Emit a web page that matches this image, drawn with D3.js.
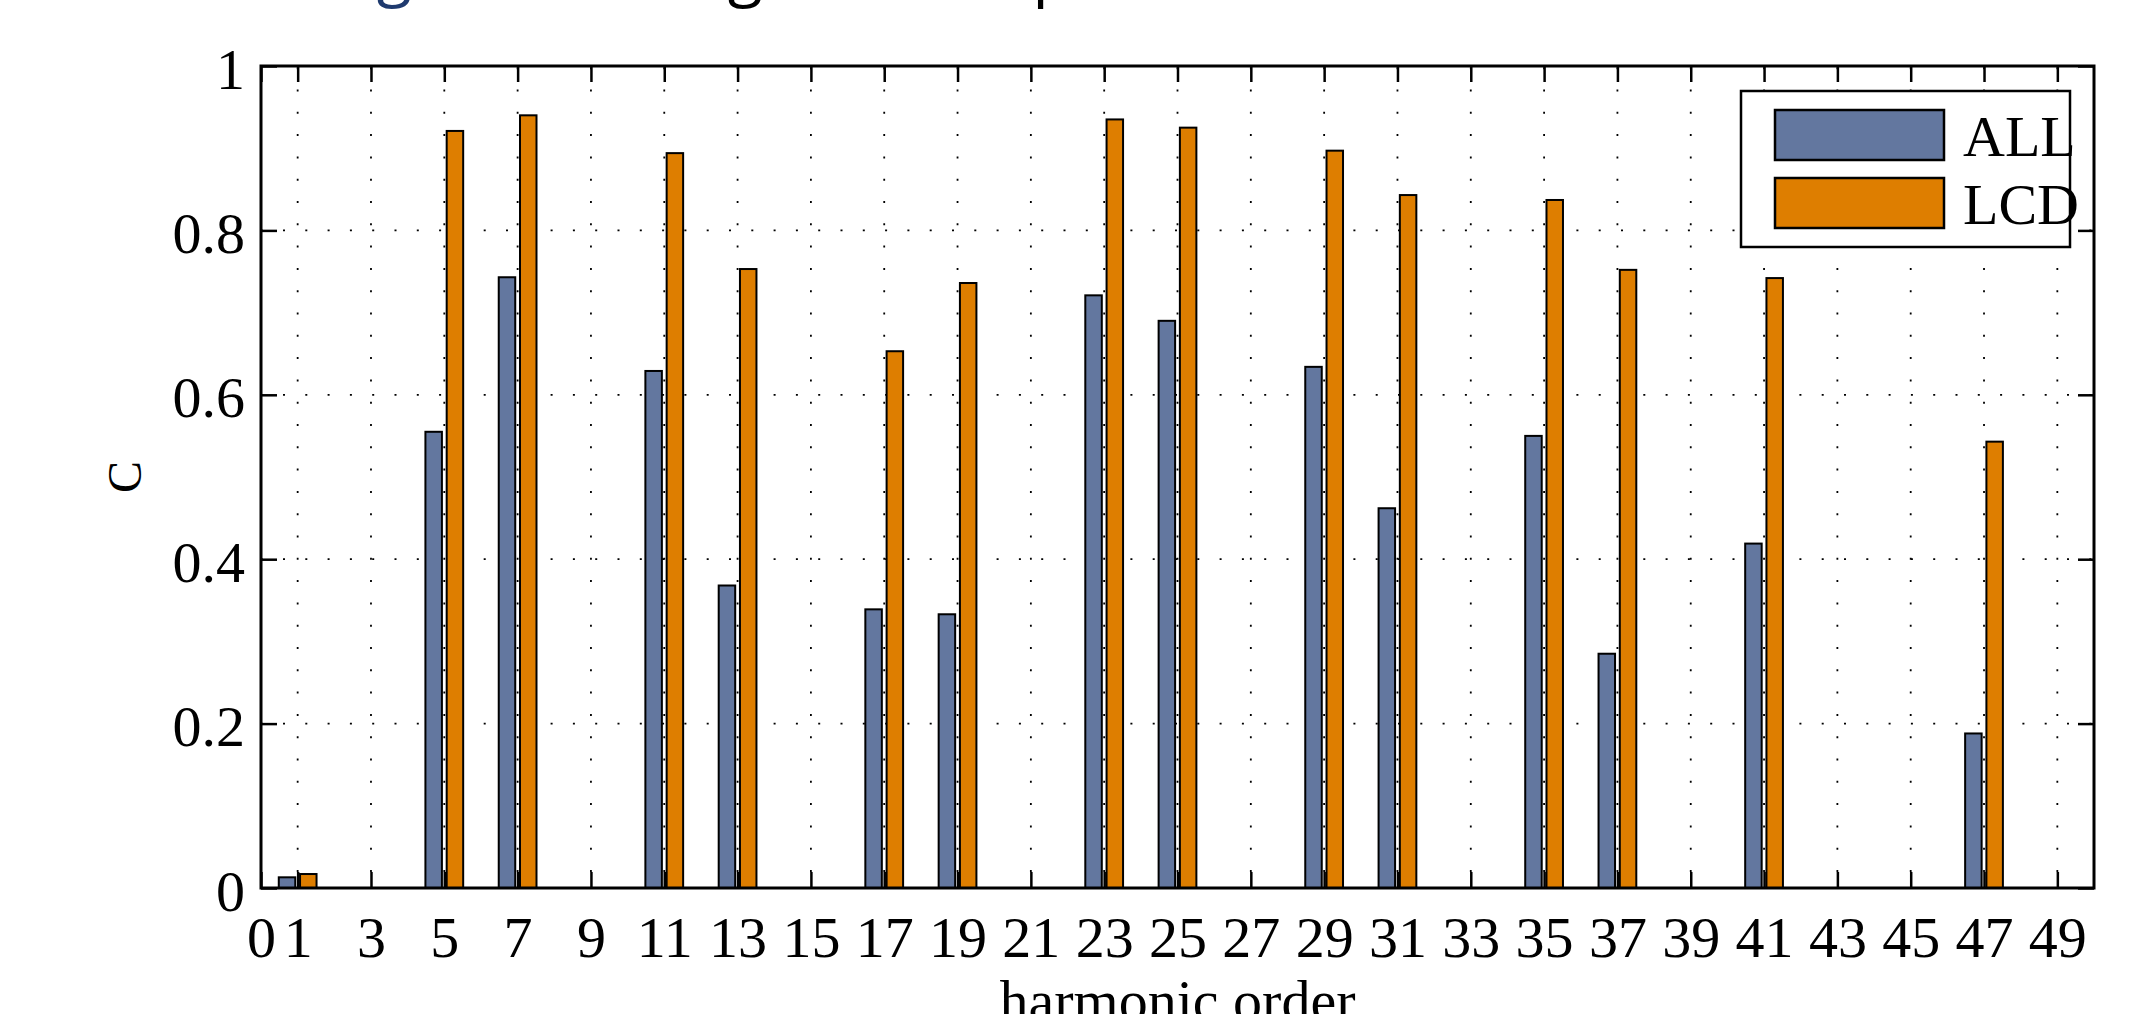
<!DOCTYPE html>
<html>
<head>
<meta charset="utf-8">
<script src="https://cdn.jsdelivr.net/npm/d3@7/dist/d3.min.js"></script>
<style>
  html, body { margin: 0; padding: 0; background: #ffffff; overflow: hidden; }
  svg { display: block; }
</style>
</head>
<body>
<svg id="chart" width="2131" height="1014"></svg>
<script>
// ---- data ----
const harmonics = [1, 5, 7, 11, 13, 17, 19, 23, 25, 29, 31, 35, 37, 41, 47];
const valuesALL = [0.013, 0.555, 0.743, 0.629, 0.368, 0.339, 0.333, 0.721, 0.690, 0.634, 0.462, 0.550, 0.285, 0.419, 0.188];
const valuesLCD = [0.017, 0.921, 0.940, 0.894, 0.753, 0.653, 0.736, 0.935, 0.925, 0.897, 0.843, 0.837, 0.752, 0.742, 0.543];
const seriesNames = ["ALL", "LCD"];
const seriesColors = ["#63779f", "#de7e00"];
const xTickValues = [0, 1, 3, 5, 7, 9, 11, 13, 15, 17, 19, 21, 23, 25, 27, 29, 31, 33, 35, 37, 39, 41, 43, 45, 47, 49];
const yTickValues = [0, 0.2, 0.4, 0.6, 0.8, 1];
const yTickLabels = ["0", "0.2", "0.4", "0.6", "0.8", "1"];
const xLabel = "harmonic order";
const yLabel = "C";
const titleGlyphs = [{t: "g", c: "#1f3a6e"}, {t: "g", c: "#000"}, {t: "p", c: "#000"}];

// ---- layout ----
const L = 261, R = 2094, T = 66, B = 888;
const serif = "'Liberation Serif', 'Times New Roman', serif";
const svg = d3.select("#chart");

const x = d3.scaleLinear().domain([0, 50]).range([L, R]);
const y = d3.scaleLinear().domain([0, 1]).range([B, T]);

// partially visible title (cut off at top of picture)
const titleX = [394, 745, 1052];
svg.append("g").selectAll("text").data(titleGlyphs).join("text")
  .attr("x", (d, i) => titleX[i]).attr("y", -6)
  .attr("text-anchor", "middle")
  .attr("font-family", "'Open Sans', sans-serif").attr("font-size", 64)
  .attr("fill", d => d.c).text(d => d.t);

// grid
const grid = svg.append("g");
grid.selectAll("line.gx").data(xTickValues.filter(v => v > 0)).join("line")
  .attr("x1", d => x(d)).attr("x2", d => x(d)).attr("y1", B).attr("y2", T)
  .attr("stroke", "#000").attr("stroke-width", 1.8).attr("stroke-dasharray", "2,20.3")
  .attr("stroke-dashoffset", -16);
grid.selectAll("line.gy").data(yTickValues.filter(v => v > 0 && v < 1)).join("line")
  .attr("x1", L).attr("x2", R).attr("y1", d => y(d)).attr("y2", d => y(d))
  .attr("stroke", "#000").attr("stroke-width", 1.8).attr("stroke-dasharray", "2,20.3")
  .attr("stroke-dashoffset", -22);

// bars
const barW = 0.45;
const offsets = [-0.515, 0.065];
const seriesData = [valuesALL, valuesLCD];
seriesData.forEach((vals, si) => {
  svg.append("g").selectAll("rect").data(harmonics.map((h, i) => ({h, v: vals[i]}))).join("rect")
    .attr("x", d => x(d.h + offsets[si]))
    .attr("width", x(barW) - x(0))
    .attr("y", d => y(d.v))
    .attr("height", d => y(0) - y(d.v))
    .attr("fill", seriesColors[si])
    .attr("stroke", "#000").attr("stroke-width", 2);
});

// inward ticks (bottom, top, left, right)
const tickLen = 16;
const axes = svg.append("g");
const xb = d3.axisBottom(x).tickValues(xTickValues).tickSize(-tickLen).tickFormat(d => String(d)).tickPadding(0);
const gB = axes.append("g").attr("transform", `translate(0,${B})`).call(xb);
gB.select(".domain").remove();
gB.selectAll(".tick line").attr("stroke", "#000").attr("stroke-width", 2.5);
gB.selectAll(".tick text").attr("y", 69).attr("dy", 0)
  .attr("font-family", serif).attr("font-size", 58).attr("fill", "#000");

const xt = d3.axisTop(x).tickValues(xTickValues).tickSize(-tickLen).tickFormat("");
const gT = axes.append("g").attr("transform", `translate(0,${T})`).call(xt);
gT.select(".domain").remove();
gT.selectAll(".tick line").attr("stroke", "#000").attr("stroke-width", 2.5);

const yl = d3.axisLeft(y).tickValues(yTickValues).tickSize(-tickLen).tickFormat((d, i) => yTickLabels[i]);
const gL = axes.append("g").attr("transform", `translate(${L},0)`).call(yl);
gL.select(".domain").remove();
gL.selectAll(".tick line").attr("stroke", "#000").attr("stroke-width", 2.5);
gL.selectAll(".tick text").attr("x", -16).attr("dy", 22)
  .attr("font-family", serif).attr("font-size", 58).attr("fill", "#000");

const yr = d3.axisRight(y).tickValues(yTickValues).tickSize(-tickLen).tickFormat("");
const gR = axes.append("g").attr("transform", `translate(${R},0)`).call(yr);
gR.select(".domain").remove();
gR.selectAll(".tick line").attr("stroke", "#000").attr("stroke-width", 2.5);

// legend
const lg = svg.append("g");
lg.append("rect").attr("x", 1741).attr("y", 91).attr("width", 329).attr("height", 156)
  .attr("fill", "#fff").attr("stroke", "#000").attr("stroke-width", 2.5);
seriesNames.forEach((n, i) => {
  lg.append("rect").attr("x", 1775).attr("y", 110 + i * 68).attr("width", 169).attr("height", 50)
    .attr("fill", seriesColors[i]).attr("stroke", "#000").attr("stroke-width", 2.5);
  lg.append("text").attr("x", 1963).attr("y", 156 + i * 68)
    .attr("font-family", serif).attr("font-size", 58).attr("fill", "#000").text(n);
});

// axes box
svg.append("rect").attr("x", L).attr("y", T).attr("width", R - L).attr("height", B - T)
  .attr("fill", "none").attr("stroke", "#000").attr("stroke-width", 3);

// axis labels
svg.append("text").attr("x", (L + R) / 2).attr("y", 1020).attr("text-anchor", "middle")
  .attr("font-family", serif).attr("font-size", 58).attr("fill", "#000").text(xLabel);
svg.append("text").attr("transform", `translate(141,${(T + B) / 2}) rotate(-90)`)
  .attr("text-anchor", "middle")
  .attr("font-family", serif).attr("font-size", 48).attr("fill", "#000").text(yLabel);
</script>
</body>
</html>
